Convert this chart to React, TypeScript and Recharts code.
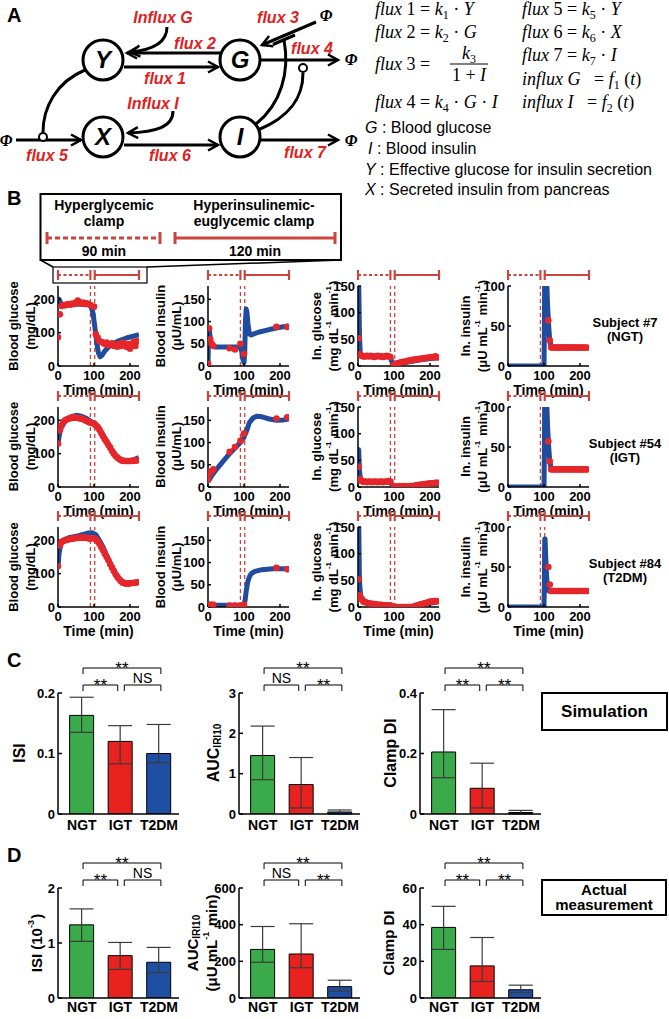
import React from "react";
import {
  ComposedChart,
  Line,
  Scatter,
  XAxis,
  YAxis,
  ReferenceLine,
  BarChart,
  Bar,
  Cell,
  ErrorBar,
} from "recharts";

const SANS = "Arial, 'Liberation Sans', Helvetica, sans-serif";
const SERIF = "'Liberation Serif', 'DejaVu Serif', serif";
const RED = "#e5262b";
const BLUE = "#1f4c9e";
const CLAMP_RED = "#c8463e";
const LABEL_RED = "#e0201c";

// ---------- panel B: time courses ----------
const TIME_TICKS = [0, 100, 200];
const GLU_TICKS = [0, 100, 200];
const INS_TICKS = [0, 50, 100, 150];
const INGLU_TICKS = [0, 50, 100, 150];
const ININS_TICKS = [0, 50, 100];
const CLAMP_MARKS = [90, 102];

// sampling times of the measurements
const tGluObs = [0, 5, 10, 15, 20, 25, 30, 35, 40, 45, 50, 55, 60, 65, 70, 75, 80, 85, 90, 100, 105, 110, 115, 120, 125, 130, 135, 140, 145, 150, 155, 160, 165, 170, 175, 180, 185, 190, 195, 200, 205, 210, 215, 220];
const tInsObs = [0, 3, 6, 10, 15, 60, 75, 90, 100, 190, 220];
const tInGluObs = [2, 5, 8, 11, 15, 20, 25, 30, 35, 40, 45, 50, 55, 60, 65, 70, 75, 80, 85, 90, 100, 105, 110, 115, 120, 125, 130, 135, 140, 145, 150, 155, 160, 165, 170, 175, 180, 185, 190, 195, 200, 205, 210, 215, 220];
const tInInsObs = [112, 116, 120, 125, 130, 135, 140, 145, 150, 155, 160, 165, 170, 175, 180, 185, 190, 195, 200, 205, 210, 215, 220];

// subject #7 (NGT)
const gluObs7 = [86, 155, 180, 183, 182, 185, 186, 184, 187, 186, 190, 196, 190, 188, 190, 186, 188, 185, 183, 178, 95, 85, 75, 72, 70, 66, 70, 62, 65, 68, 60, 64, 58, 66, 60, 70, 62, 58, 66, 52, 62, 72, 60, 75];
const gluSimT7 = [0, 3, 8, 12, 30, 60, 85, 92, 97, 102, 107, 112, 117, 123, 130, 145, 165, 190, 225];
const gluSim7 = [200, 200, 188, 183, 184, 186, 185, 178, 160, 120, 75, 40, 28, 33, 45, 62, 74, 84, 94];
const insObs7 = [5, 85, 60, 50, 45, 40, 37, 50, 27, 88, 88];
const insSimT7 = [0, 1, 3, 5, 8, 12, 20, 50, 88, 93, 97, 100, 102, 104, 106, 108, 111, 115, 120, 140, 170, 200, 225];
const insSim7 = [0, 45, 85, 72, 55, 46, 43, 43, 43, 35, 15, 8, 30, 100, 128, 122, 95, 72, 70, 76, 82, 87, 90];
const inGluObs7 = [52, 22, 20, 19, 18, 18, 19, 18, 19, 18, 17, 18, 19, 18, 18, 17, 18, 19, 18, 17, 2, 4, 5, 6, 7, 8, 8, 9, 10, 10, 11, 12, 12, 13, 13, 14, 14, 15, 15, 16, 16, 17, 16, 18, 16];
const inGluSimT7 = [0, 2, 4, 6, 10, 30, 60, 88, 93, 98, 102, 106, 120, 150, 180, 225];
const inGluSim7 = [160, 160, 60, 25, 20, 18, 18, 18, 10, 5, 0, 2, 5, 9, 12, 16];
const inInsObs7 = [57, 32, 23, 23, 23, 23, 23, 23, 23, 23, 23, 23, 23, 23, 23, 23, 23, 23, 23, 23, 23, 23, 23];
const inInsSimT7 = [0, 100, 101, 102, 104, 106, 108, 110, 113, 116, 120, 225];
const inInsSim7 = [0, 0, 40, 120, 140, 130, 100, 75, 50, 32, 24, 23];

// subject #54 (IGT)
const gluObs54 = [130, 170, 185, 195, 200, 203, 205, 207, 208, 208, 208, 207, 206, 205, 203, 200, 198, 195, 193, 190, 185, 180, 172, 162, 152, 143, 135, 126, 118, 108, 100, 93, 88, 84, 80, 79, 78, 78, 78, 78, 78, 79, 79, 80];
const gluSimT54 = [0, 5, 10, 20, 35, 50, 65, 80, 90, 100, 110, 120, 135, 150, 165, 175, 190, 205, 225];
const gluSim54 = [130, 165, 180, 198, 210, 215, 212, 205, 198, 190, 182, 165, 138, 108, 88, 80, 77, 80, 88];
const insObs54 = [17, 28, 33, 36, 40, 79, 90, 104, 120, 154, 157];
const insSimT54 = [0, 10, 20, 40, 60, 80, 90, 100, 108, 115, 125, 135, 150, 170, 190, 210, 225];
const insSim54 = [12, 25, 36, 56, 75, 92, 100, 112, 128, 145, 155, 159, 158, 153, 150, 151, 153];
const inGluObs54 = [38, 15, 12, 11, 10, 10, 9, 10, 10, 9, 10, 10, 9, 10, 10, 9, 10, 10, 11, 10, 1, 1, 1, 2, 1, 1, 2, 1, 1, 2, 2, 2, 3, 3, 4, 4, 5, 5, 6, 6, 7, 7, 7, 8, 8];
const inGluSimT54 = [0, 2, 4, 7, 12, 30, 60, 88, 93, 98, 102, 150, 170, 200, 225];
const inGluSim54 = [70, 70, 30, 15, 12, 10, 10, 10, 6, 2, 0, 0, 3, 6, 9];
const inInsObs54 = [57, 32, 22, 22, 22, 22, 22, 22, 22, 22, 22, 22, 22, 22, 22, 22, 22, 22, 22, 22, 22, 22, 22];
const inInsSimT54 = [0, 100, 101, 102, 104, 106, 108, 110, 113, 116, 120, 225];
const inInsSim54 = [0, 0, 40, 120, 140, 130, 100, 75, 50, 32, 23, 22];

// subject #84 (T2DM)
const gluObs84 = [122, 185, 195, 198, 200, 202, 203, 204, 205, 206, 207, 207, 208, 208, 208, 208, 207, 206, 205, 206, 203, 198, 190, 180, 170, 160, 150, 140, 128, 118, 108, 98, 90, 83, 77, 73, 71, 70, 70, 71, 72, 72, 73, 74];
const gluSimT84 = [0, 3, 8, 15, 30, 50, 70, 85, 95, 105, 115, 125, 137, 150, 160, 170, 180, 190, 205, 225];
const gluSim84 = [120, 160, 190, 200, 208, 212, 218, 222, 223, 217, 200, 180, 150, 120, 100, 85, 76, 72, 72, 76];
const insObs84 = [3, 5, 5, 5, 5, 3, 3, 3, 5, 88, 85];
const insSimT84 = [0, 95, 100, 103, 106, 110, 115, 120, 130, 150, 180, 225];
const insSim84 = [4, 4, 5, 15, 35, 55, 68, 75, 80, 84, 86, 86];
const inGluObs84 = [52, 22, 16, 14, 10, 9, 8, 7, 6, 6, 5, 5, 4, 4, 4, 3, 3, 3, 3, 3, 1, 0, 0, 0, 0, 0, 0, 0, 0, 0, 0, 1, 2, 3, 4, 5, 6, 7, 8, 9, 10, 10, 11, 11, 11];
const inGluSimT84 = [0, 2, 4, 7, 12, 20, 40, 60, 88, 95, 100, 150, 170, 190, 225];
const inGluSim84 = [160, 160, 50, 22, 15, 10, 6, 4, 3, 1, 0, 0, 3, 6, 10];
const inInsObs84 = [50, 28, 20, 20, 20, 20, 20, 20, 20, 20, 20, 20, 20, 20, 20, 20, 20, 20, 20, 20, 20, 20, 20];
const inInsSimT84 = [0, 100, 101, 102, 103, 105, 107, 109, 111, 113, 116, 225];
const inInsSim84 = [0, 0, 30, 85, 85, 60, 40, 28, 22, 20, 20, 20];

const SUBJECTS = ["Subject #7", "Subject #54", "Subject #84"];
const GROUPS = ["(NGT)", "(IGT)", "(T2DM)"];

// ---------- panels C and D: group comparison ----------
const CATS = ["NGT", "IGT", "T2DM"];
const BAR_COLORS = ["#3aaa4a", "#e8231f", "#1e4fa3"];

const simIsi = [0.163, 0.12, 0.1];
const simIsiLo = [0.135, 0.083, 0.085];
const simIsiHi = [0.193, 0.146, 0.148];
const simAuc = [1.45, 0.73, 0.05];
const simAucLo = [0.85, 0.15, 0.0];
const simAucHi = [2.18, 1.4, 0.1];
const simDi = [0.205, 0.085, 0.005];
const simDiLo = [0.12, 0.02, 0.0];
const simDiHi = [0.345, 0.168, 0.012];

const actIsi = [1.33, 0.77, 0.65];
const actIsiLo = [1.03, 0.52, 0.46];
const actIsiHi = [1.62, 1.01, 0.92];
const actAuc = [265, 240, 62];
const actAucLo = [195, 165, 38];
const actAucHi = [390, 405, 97];
const actDi = [38.5, 17.5, 4.5];
const actDiLo = [26.5, 9, 3];
const actDiHi = [50, 33, 7];

const SIG_ISI = ["**", "**", "NS"];
const SIG_AUC = ["**", "NS", "**"];
const SIG_DI = ["**", "**", "**"];

const axisTick = { fill: "#000", fontSize: 13, fontWeight: 700, fontFamily: SANS };

const timeTick = (p: any) => (
  <text x={p.x} y={p.y} dy={10} textAnchor="middle" fill="#000" fontSize={13} fontWeight={700} fontFamily={SANS}>
    {p.payload.value}
  </text>
);

const redDot = (p: any) => <circle cx={p.cx} cy={p.cy} r={3.3} fill={RED} />;

const clampShape = (dotted: boolean) => (p: any) => (
  <g stroke={CLAMP_RED} strokeWidth={2.2}>
    <line x1={p.x1} y1={p.y1} x2={p.x2} y2={p.y2} strokeDasharray={dotted ? "3 2.5" : undefined} />
    <line x1={p.x1} y1={p.y1 - 5} x2={p.x1} y2={p.y1 + 5} />
    <line x1={p.x2} y1={p.y2 - 5} x2={p.x2} y2={p.y2 + 5} />
  </g>
);

function TimePlot({ left, top, simT, sim, obsT, obs, yMax, yTicks }: any) {
  const simData = simT.map((t: number, i: number) => ({ t, v: sim[i] }));
  const obsData = obsT.map((t: number, i: number) => ({ t, v: obs[i] }));
  const yb = yMax * (1 + 11 / 80);
  return (
    <div style={{ position: "absolute", left: left - 35, top: top - 20 }}>
      <ComposedChart width={118} height={122} margin={{ top: 20, right: 2, bottom: 0, left: 0 }}>
        <XAxis type="number" dataKey="t" domain={[0, 225]} ticks={TIME_TICKS} allowDataOverflow height={22}
          interval={0} stroke="#000" strokeWidth={1.5} tickSize={-3} tickMargin={7} tick={timeTick} />
        <XAxis xAxisId="top" orientation="top" type="number" domain={[0, 225]} ticks={TIME_TICKS} allowDataOverflow
          interval={0} height={0} stroke="#000" strokeWidth={1.5} tickSize={-3} tick={false} />
        <YAxis type="number" dataKey="v" domain={[0, yMax]} ticks={yTicks} allowDataOverflow width={35}
          interval={0} stroke="#000" strokeWidth={1.5} tickSize={-3} tickMargin={6} tick={axisTick} />
        <YAxis yAxisId="right" orientation="right" type="number" domain={[0, yMax]} ticks={yTicks} allowDataOverflow
          interval={0} width={0} stroke="#000" strokeWidth={1.5} tickSize={-3} tick={false} />
        {CLAMP_MARKS.map((m) => (
          <ReferenceLine key={m} x={m} stroke={CLAMP_RED} strokeWidth={1.3} strokeDasharray="4 3" />
        ))}
        <ReferenceLine segment={[{ x: 0, y: yb }, { x: 90, y: yb }]} ifOverflow="visible" shape={clampShape(true)} />
        <ReferenceLine segment={[{ x: 102, y: yb }, { x: 225, y: yb }]} ifOverflow="visible" shape={clampShape(false)} />
        <Line data={simData} dataKey="v" type="linear" stroke={BLUE} strokeWidth={5} strokeLinejoin="round"
          dot={false} isAnimationActive={false} />
        <Scatter data={obsData} dataKey="v" fill={RED} shape={redDot} isAnimationActive={false} />
      </ComposedChart>
    </div>
  );
}

const bracketShape = (text: string) => (p: any) => (
  <g>
    <path d={`M${p.x1},${p.y1 + 6}V${p.y1}H${p.x2}V${p.y2 + 6}`} fill="none" stroke="#000" strokeWidth={1} />
    <text x={(p.x1 + p.x2) / 2} y={text === "NS" ? p.y1 - 2 : p.y1 + 6} textAnchor="middle"
      fontSize={text === "NS" ? 14 : 17} fontFamily={SANS} fill="#000">{text}</text>
  </g>
);

function BarPanel({ left, top, height, yMax, yTicks, vals, lo, hi, sig, margin = 6 }: any) {
  const data = CATS.map((c, i) => ({ x: i + 1, name: c, v: vals[i], err: [vals[i] - lo[i], hi[i] - vals[i]] }));
  const yLow = yMax * (1 + 8 / height);
  const yHigh = yMax * (1 + 25 / height);
  const brackets = [
    { a: 1.03, b: 3.05, y: yHigh, t: sig[0] },
    { a: 1.03, b: 1.93, y: yLow, t: sig[1] },
    { a: 2.1, b: 3.05, y: yLow, t: sig[2] },
  ];
  return (
    <div style={{ position: "absolute", left: left - 40, top: top - 40 }}>
      <BarChart width={163} height={40 + height + 22} data={data} margin={{ top: 40, right: 2, bottom: 0, left: 0 }}>
        <XAxis type="number" dataKey="x" domain={[0.38, 3.52]} ticks={[1, 2, 3]} allowDataOverflow interval={0}
          tickFormatter={(v: number) => CATS[v - 1]} height={22} stroke="#000" strokeWidth={1.5}
          tickLine={false} tickSize={0} tickMargin={margin}
          tick={{ fill: "#000", fontSize: 14, fontWeight: 700, fontFamily: SANS }} />
        <YAxis type="number" domain={[0, yMax]} ticks={yTicks} allowDataOverflow width={40} stroke="#000"
          interval={0} strokeWidth={1.5} tickSize={-4} tickMargin={7}
          tick={{ fill: "#000", fontSize: 13, fontWeight: 700, fontFamily: SANS }} />
        {brackets.map((br, i) => (
          <ReferenceLine key={i} segment={[{ x: br.a, y: br.y }, { x: br.b, y: br.y }]} ifOverflow="visible"
            shape={bracketShape(br.t)} />
        ))}
        <Bar dataKey="v" barSize={24} stroke="#000" strokeWidth={1} isAnimationActive={false}>
          {data.map((d, i) => (
            <Cell key={d.name} fill={BAR_COLORS[i]} />
          ))}
          <ErrorBar dataKey="err" width={12} stroke="#3a3a3a" strokeWidth={1.2} direction="y" />
        </Bar>
      </BarChart>
    </div>
  );
}

function VText({ x, y, size = 13, children }: any) {
  return (
    <text transform={`translate(${x},${y}) rotate(-90)`} textAnchor="middle" dominantBaseline="central"
      fontSize={size} fontWeight={700} fontFamily={SANS} fill="#000">
      {children}
    </text>
  );
}

const Sup = ({ children, size = 8 }: any) => (
  <>
    <tspan fontSize={size} dy={-5}>{children}</tspan>
    <tspan dy={5}>{"\u200A"}</tspan>
  </>
);

function Diagram() {
  const lbl = { fill: LABEL_RED, fontSize: 16, fontWeight: 700, fontStyle: "italic", fontFamily: SANS, textAnchor: "middle" } as any;
  const phi = { fill: "#000", fontSize: 16, fontWeight: 700, fontStyle: "italic", fontFamily: SERIF, textAnchor: "middle" } as any;
  const node = (cx: number, cy: number, s: string) => (
    <g key={s}>
      <circle cx={cx} cy={cy} r={20} fill="#fff" stroke="#000" strokeWidth={3} />
      <text x={cx} y={cy + 8} textAnchor="middle" fontSize={24} fontWeight={700} fontStyle="italic" fontFamily={SANS}>{s}</text>
    </g>
  );
  return (
    <g>
      <defs>
        <marker id="arr" markerWidth={14} markerHeight={14} refX={11} refY={7} orient="auto" markerUnits="userSpaceOnUse">
          <path d="M1,1.5 L11,7 L1,12.5" fill="none" stroke="#000" strokeWidth={2.5} />
        </marker>
      </defs>
      <g stroke="#000" strokeWidth={3} fill="none">
        <line x1={220} y1={53} x2={127} y2={53} markerEnd="url(#arr)" />
        <line x1={124} y1={67} x2={218} y2={67} markerEnd="url(#arr)" />
        <line x1={260} y1={60} x2={338} y2={60} markerEnd="url(#arr)" />
        <line x1={16} y1={140} x2={81} y2={140} markerEnd="url(#arr)" />
        <line x1={124} y1={145} x2={218} y2={145} markerEnd="url(#arr)" />
        <line x1={260} y1={140} x2={338} y2={140} markerEnd="url(#arr)" />
        <line x1={316} y1={22} x2={262} y2={45} markerEnd="url(#arr)" />
        <path d="M167,27 C167,42 153,50 130,52" markerEnd="url(#arr)" />
        <path d="M173,111 C173,127 156,132 128,133" markerEnd="url(#arr)" />
        <path d="M256,124 C281,104 290,72 284,40" />
        <line x1={273} y1={44.5} x2={295} y2={35} />
        <path d="M258,130 C292,116 303,96 303,73" />
        <path d="M85,70 C56,82 43,108 43,132" />
      </g>
      <circle cx={303} cy={68} r={4} fill="#fff" stroke="#000" strokeWidth={2} />
      <circle cx={43} cy={137} r={4} fill="#fff" stroke="#000" strokeWidth={2} />
      {node(103, 60, "Y")}
      {node(240, 60, "G")}
      {node(103, 137, "X")}
      {node(240, 137, "I")}
      <text x={163} y={23} {...lbl}>Influx G</text>
      <text x={278} y={23} {...lbl}>flux 3</text>
      <text x={195} y={49} {...lbl}>flux 2</text>
      <text x={165} y={84} {...lbl}>flux 1</text>
      <text x={312} y={54} {...lbl}>flux 4</text>
      <text x={153} y={109} {...lbl}>Influx I</text>
      <text x={47} y={161} {...lbl}>flux 5</text>
      <text x={170} y={161} {...lbl}>flux 6</text>
      <text x={305} y={158} {...lbl}>flux 7</text>
      <text x={326} y={21} {...phi}>Φ</text>
      <text x={6} y={146} {...phi}>Φ</text>
      <text x={351} y={65} {...phi}>Φ</text>
      <text x={351} y={146} {...phi}>Φ</text>
    </g>
  );
}

function Equations() {
  const st = { fontFamily: SERIF, fontSize: 18, fontStyle: "italic", fill: "#000" } as any;
  const sub = (s: string) => (
    <>
      <tspan fontSize={12} dy={4} fontStyle="normal">{s}</tspan>
      <tspan dy={-4}>{" "}</tspan>
    </>
  );
  const up = (s: string) => <tspan fontStyle="normal">{s}</tspan>;
  return (
    <g>
      <text x={375} y={15} {...st}>flux {up("1 = ")}k{sub("1")}{up("· ")}Y</text>
      <text x={375} y={38} {...st}>flux {up("2 = ")}k{sub("2")}{up("· ")}G</text>
      <text x={375} y={70} {...st}>flux {up("3 =")}</text>
      <text x={469} y={59} {...st} textAnchor="middle">k{sub("3")}</text>
      <line x1={450} y1={64} x2={488} y2={64} stroke="#000" strokeWidth={1} />
      <text x={469} y={81} {...st} textAnchor="middle">{up("1 + ")}I</text>
      <text x={375} y={108} {...st}>flux {up("4 = ")}k{sub("4")}{up("· ")}G {up("· ")}I</text>
      <text x={522} y={15} {...st}>flux {up("5 = ")}k{sub("5")}{up("· ")}Y</text>
      <text x={522} y={38} {...st}>flux {up("6 = ")}k{sub("6")}{up("· ")}X</text>
      <text x={522} y={61} {...st}>flux {up("7 = ")}k{sub("7")}{up("· ")}I</text>
      <text x={522} y={85} {...st}>influx G {up("\u2002= ")}f{sub("1")}{up("(")}t{up(")")}</text>
      <text x={522} y={108} {...st}>influx I {up("\u2002= ")}f{sub("2")}{up("(")}t{up(")")}</text>
      <g fontFamily={SANS} fontSize={16} fill="#000">
        <text x={365} y={133}><tspan fontStyle="italic">G</tspan> : Blood glucose</text>
        <text x={368} y={154}><tspan fontStyle="italic">I</tspan>  : Blood insulin</text>
        <text x={365} y={175}><tspan fontStyle="italic">Y</tspan> : Effective glucose for insulin secretion</text>
        <text x={365} y={195}><tspan fontStyle="italic">X</tspan> : Secreted insulin from pancreas</text>
      </g>
    </g>
  );
}

function ClampLegend() {
  const t = { fontFamily: SANS, fontSize: 14, fontWeight: 700, fill: "#000", textAnchor: "middle" } as any;
  return (
    <g>
      <rect x={40.5} y={194} width={300.5} height={66} fill="none" stroke="#000" strokeWidth={2} />
      <line x1={40.5} y1={260} x2={53} y2={267} stroke="#000" strokeWidth={1.5} />
      <line x1={341} y1={260} x2={147} y2={267} stroke="#000" strokeWidth={1.5} />
      <rect x={53} y={267} width={94} height={16} fill="none" stroke="#000" strokeWidth={1.2} />
      <text x={104} y={210} {...t}>Hyperglycemic</text>
      <text x={104} y={226} {...t}>clamp</text>
      <text x={254} y={210} {...t}>Hyperinsulinemic-</text>
      <text x={254} y={226} {...t}>euglycemic clamp</text>
      <g stroke={CLAMP_RED} strokeWidth={3}>
        <line x1={47} y1={238} x2={160} y2={238} strokeDasharray="5 3" />
        <line x1={47} y1={232} x2={47} y2={244} />
        <line x1={160} y1={232} x2={160} y2={244} />
        <line x1={175} y1={238} x2={335} y2={238} />
        <line x1={175} y1={232} x2={175} y2={244} />
        <line x1={335} y1={232} x2={335} y2={244} />
      </g>
      <text x={104} y={256} {...t}>90 min</text>
      <text x={255} y={256} {...t}>120 min</text>
    </g>
  );
}

const ROW_TOPS = [286, 406.5, 527];
const COL_LEFTS = [58, 208, 358, 508];

export default function App() {
  const cols = [
    { yMax: 240, ticks: GLU_TICKS, obsT: tGluObs },
    { yMax: 180, ticks: INS_TICKS, obsT: tInsObs },
    { yMax: 150, ticks: INGLU_TICKS, obsT: tInGluObs },
    { yMax: 100, ticks: ININS_TICKS, obsT: tInInsObs },
  ];
  const series = [
    [[gluSimT7, gluSim7, gluObs7], [insSimT7, insSim7, insObs7], [inGluSimT7, inGluSim7, inGluObs7], [inInsSimT7, inInsSim7, inInsObs7]],
    [[gluSimT54, gluSim54, gluObs54], [insSimT54, insSim54, insObs54], [inGluSimT54, inGluSim54, inGluObs54], [inInsSimT54, inInsSim54, inInsObs54]],
    [[gluSimT84, gluSim84, gluObs84], [insSimT84, insSim84, insObs84], [inGluSimT84, inGluSim84, inGluObs84], [inInsSimT84, inInsSim84, inInsObs84]],
  ];
  const letter = { fontFamily: SANS, fontSize: 20, fontWeight: 700, fill: "#000" } as any;
  return (
    <div style={{ position: "relative", width: 669, height: 1019, background: "#fff", overflow: "hidden" }}>
      <style>{"body{margin:0}"}</style>
      <svg width={669} height={1019} style={{ position: "absolute", left: 0, top: 0 }}>
        <text x={7} y={22} {...letter}>A</text>
        <Diagram />
        <Equations />
        <text x={7} y={205} {...letter}>B</text>
        <ClampLegend />
        {ROW_TOPS.map((top, r) => {
          const cy = top + 40;
          return (
            <g key={r}>
              <VText x={13} y={cy}>Blood glucose</VText>
              <VText x={30} y={cy}>(mg/dL)</VText>
              <VText x={160} y={cy}>Blood insulin</VText>
              <VText x={176} y={cy}>(μU/mL)</VText>
              <VText x={316} y={cy}>In. glucose</VText>
              <VText x={333} y={cy}>(mg dL<Sup>-1</Sup> min<Sup>-1</Sup>)</VText>
              <VText x={465} y={cy}>In. insulin</VText>
              <VText x={482} y={cy}>(μU mL<Sup>-1</Sup> min<Sup>-1</Sup>)</VText>
              {COL_LEFTS.map((l) => (
                <text key={l} x={l + 40.5} y={top + 109} textAnchor="middle" fontFamily={SANS} fontSize={14}
                  fontWeight={700}>Time (min)</text>
              ))}
              <text x={625} y={top + 41} textAnchor="middle" fontFamily={SANS} fontSize={13} fontWeight={700}>{SUBJECTS[r]}</text>
              <text x={625} y={top + 55} textAnchor="middle" fontFamily={SANS} fontSize={13} fontWeight={700}>{GROUPS[r]}</text>
            </g>
          );
        })}
        <text x={7} y={667} {...letter}>C</text>
        <VText x={19} y={753} size={16}>ISI</VText>
        <VText x={213} y={753} size={16}>AUC<tspan fontSize={10} dy={4}>IRI10</tspan></VText>
        <VText x={390} y={753} size={16}>Clamp DI</VText>
        <rect x={542} y={693} width={125} height={37} fill="none" stroke="#000" strokeWidth={2} />
        <text x={604.5} y={717} textAnchor="middle" fontFamily={SANS} fontSize={17} fontWeight={700}>Simulation</text>
        <text x={7} y={862} {...letter}>D</text>
        <VText x={36} y={943} size={15}>ISI (10<Sup size={9}>-3</Sup>)</VText>
        <VText x={192} y={943} size={15}>AUC<tspan fontSize={10} dy={4}>IRI10</tspan></VText>
        <VText x={211} y={943} size={15}>(μU mL<Sup size={9}>-1</Sup> min)</VText>
        <VText x={388} y={943} size={15}>Clamp DI</VText>
        <rect x={542} y={880} width={124} height={35} fill="none" stroke="#000" strokeWidth={2} />
        <text x={604} y={895} textAnchor="middle" fontFamily={SANS} fontSize={15} fontWeight={700}>Actual</text>
        <text x={604} y={910} textAnchor="middle" fontFamily={SANS} fontSize={15} fontWeight={700}>measurement</text>
      </svg>
      {ROW_TOPS.map((top, r) =>
        COL_LEFTS.map((left, c) => (
          <TimePlot key={`${r}-${c}`} left={left} top={top} simT={series[r][c][0]} sim={series[r][c][1]}
            obsT={cols[c].obsT} obs={series[r][c][2]} yMax={cols[c].yMax} yTicks={cols[c].ticks} />
        ))
      )}
      <BarPanel left={58} top={693} height={121} yMax={0.2} yTicks={[0, 0.1, 0.2]} vals={simIsi} lo={simIsiLo} hi={simIsiHi} sig={SIG_ISI} />
      <BarPanel left={239} top={693} height={121} yMax={3} yTicks={[0, 1, 2, 3]} vals={simAuc} lo={simAucLo} hi={simAucHi} sig={SIG_AUC} />
      <BarPanel left={420} top={693} height={121} yMax={0.4} yTicks={[0, 0.2, 0.4]} vals={simDi} lo={simDiLo} hi={simDiHi} sig={SIG_DI} />
      <BarPanel left={58} top={888} height={110} yMax={2} yTicks={[0, 1, 2]} vals={actIsi} lo={actIsiLo} hi={actIsiHi} sig={SIG_ISI} margin={4} />
      <BarPanel left={239} top={888} height={110} yMax={600} yTicks={[0, 200, 400, 600]} vals={actAuc} lo={actAucLo} hi={actAucHi} sig={SIG_AUC} margin={4} />
      <BarPanel left={420} top={888} height={110} yMax={60} yTicks={[0, 20, 40, 60]} vals={actDi} lo={actDiLo} hi={actDiHi} sig={SIG_DI} margin={4} />
    </div>
  );
}
